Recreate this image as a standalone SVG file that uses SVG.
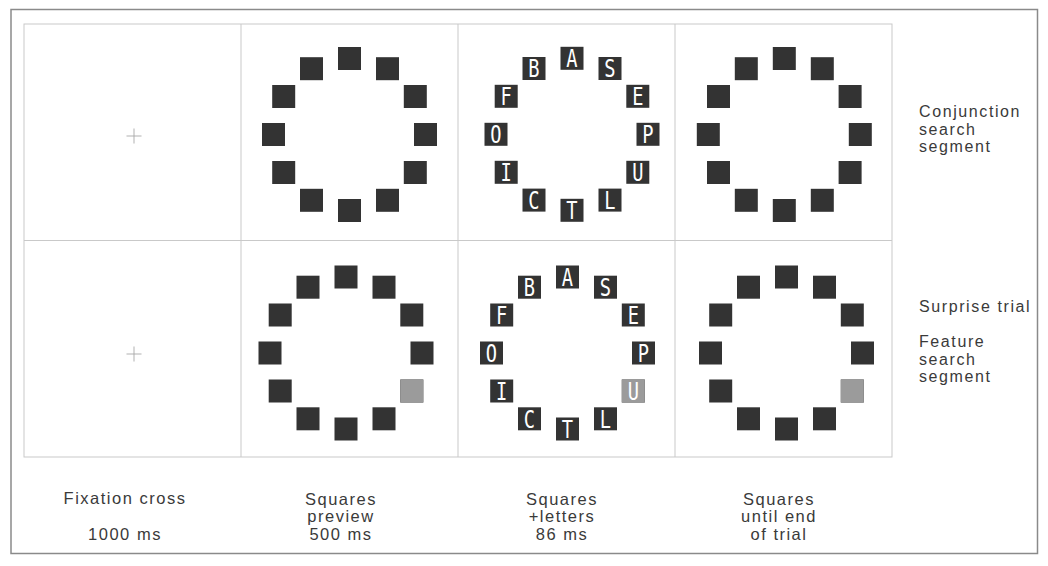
<svg xmlns="http://www.w3.org/2000/svg" xmlns:xlink="http://www.w3.org/1999/xlink" width="1048" height="566" viewBox="0 0 1048 566">
<style>
.frame{fill:none;stroke:#8a8a8a;stroke-width:1.5}
.grid{fill:none;stroke:#c9c9c9;stroke-width:1}
.sq{fill:#333333}
.gsq{fill:#9b9b9b}
.cross{stroke:#a8a8a8;stroke-width:0.9}
.let{font-family:"DejaVu Sans Mono","Liberation Mono",monospace;font-size:24px;fill:#ffffff;text-anchor:middle}
.lab{font-family:"Liberation Sans",Arial,sans-serif;font-size:16px;fill:#3a3a3a;letter-spacing:1.6px}
.cap{font-family:"Liberation Sans",Arial,sans-serif;font-size:16.5px;fill:#3a3a3a;letter-spacing:1.5px;text-anchor:middle}
</style>
<defs>
<g id="ring">
<rect class="sq" x="-11.5" y="-87.5" width="23" height="23"/>
<rect class="sq" x="26.5" y="-77.3" width="23" height="23"/>
<rect class="sq" x="54.3" y="-49.5" width="23" height="23"/>
<rect class="sq" x="64.5" y="-11.5" width="23" height="23"/>
<rect class="sq" x="54.3" y="26.5" width="23" height="23"/>
<rect class="sq" x="26.5" y="54.3" width="23" height="23"/>
<rect class="sq" x="-11.5" y="64.5" width="23" height="23"/>
<rect class="sq" x="-49.5" y="54.3" width="23" height="23"/>
<rect class="sq" x="-77.3" y="26.5" width="23" height="23"/>
<rect class="sq" x="-87.5" y="-11.5" width="23" height="23"/>
<rect class="sq" x="-77.3" y="-49.5" width="23" height="23"/>
<rect class="sq" x="-49.5" y="-77.3" width="23" height="23"/>
</g>
<rect id="odd" class="gsq" x="54.3" y="26.5" width="23" height="23"/>
<g id="letters">
<text class="let" transform="translate(0,-67.2) scale(0.78,1)">A</text>
<text class="let" transform="translate(38,-57) scale(0.78,1)">S</text>
<text class="let" transform="translate(65.8,-29.2) scale(0.78,1)">E</text>
<text class="let" transform="translate(76,8.8) scale(0.78,1)">P</text>
<text class="let" transform="translate(65.8,46.8) scale(0.78,1)">U</text>
<text class="let" transform="translate(38,74.6) scale(0.78,1)">L</text>
<text class="let" transform="translate(0,84.8) scale(0.78,1)">T</text>
<text class="let" transform="translate(-38,74.6) scale(0.78,1)">C</text>
<text class="let" transform="translate(-65.8,46.8) scale(0.78,1)">I</text>
<text class="let" transform="translate(-76,8.8) scale(0.78,1)">O</text>
<text class="let" transform="translate(-65.8,-29.2) scale(0.78,1)">F</text>
<text class="let" transform="translate(-38,-57) scale(0.78,1)">B</text>
</g>
</defs>
<rect x="0" y="0" width="1048" height="566" fill="#ffffff"/>
<rect class="frame" x="11" y="9.5" width="1026.5" height="544"/>
<g id="grid">
<rect class="grid" x="24" y="24" width="868" height="433"/>
<line class="grid" x1="241" y1="24" x2="241" y2="457"/>
<line class="grid" x1="458" y1="24" x2="458" y2="457"/>
<line class="grid" x1="675" y1="24" x2="675" y2="457"/>
<line class="grid" x1="24" y1="240.5" x2="892" y2="240.5"/>
</g>
<g id="fixation-top">
<line class="cross" x1="126.5" y1="136" x2="141.5" y2="136"/>
<line class="cross" x1="134" y1="128.5" x2="134" y2="143.5"/>
</g>
<g id="fixation-bottom">
<line class="cross" x1="126.5" y1="354" x2="141.5" y2="354"/>
<line class="cross" x1="134" y1="346.5" x2="134" y2="361.5"/>
</g>
<g id="preview-conj" transform="translate(349.5,134.5)"><use xlink:href="#ring"/></g>
<g id="letters-conj" transform="translate(572,134.3)"><use xlink:href="#ring"/><use xlink:href="#letters"/></g>
<g id="end-conj" transform="translate(784.3,134.5)"><use xlink:href="#ring"/></g>
<g id="preview-feat" transform="translate(346,353)"><use xlink:href="#ring"/><use xlink:href="#odd"/></g>
<g id="letters-feat" transform="translate(567.5,353)"><use xlink:href="#ring"/><use xlink:href="#odd"/><use xlink:href="#letters"/></g>
<g id="end-feat" transform="translate(786.5,353)"><use xlink:href="#ring"/><use xlink:href="#odd"/></g>
<g id="label-conjunction">
<text class="lab" x="919" y="117">Conjunction</text>
<text class="lab" x="919" y="134.5">search</text>
<text class="lab" x="919" y="152">segment</text>
</g>
<g id="label-surprise">
<text class="lab" x="919" y="311.5">Surprise trial</text>
</g>
<g id="label-feature">
<text class="lab" x="919" y="347">Feature</text>
<text class="lab" x="919" y="364.5">search</text>
<text class="lab" x="919" y="382">segment</text>
</g>
<g id="caption-fixation">
<text class="cap" x="125" y="504">Fixation cross</text>
<text class="cap" x="125" y="540">1000 ms</text>
</g>
<g id="caption-preview">
<text class="cap" x="341" y="505">Squares</text>
<text class="cap" x="341" y="522">preview</text>
<text class="cap" x="341" y="540">500 ms</text>
</g>
<g id="caption-letters">
<text class="cap" x="562" y="505">Squares</text>
<text class="cap" x="562" y="522">+letters</text>
<text class="cap" x="562" y="540">86 ms</text>
</g>
<g id="caption-end">
<text class="cap" x="779" y="505">Squares</text>
<text class="cap" x="779" y="522">until end</text>
<text class="cap" x="779" y="540">of trial</text>
</g>
</svg>
